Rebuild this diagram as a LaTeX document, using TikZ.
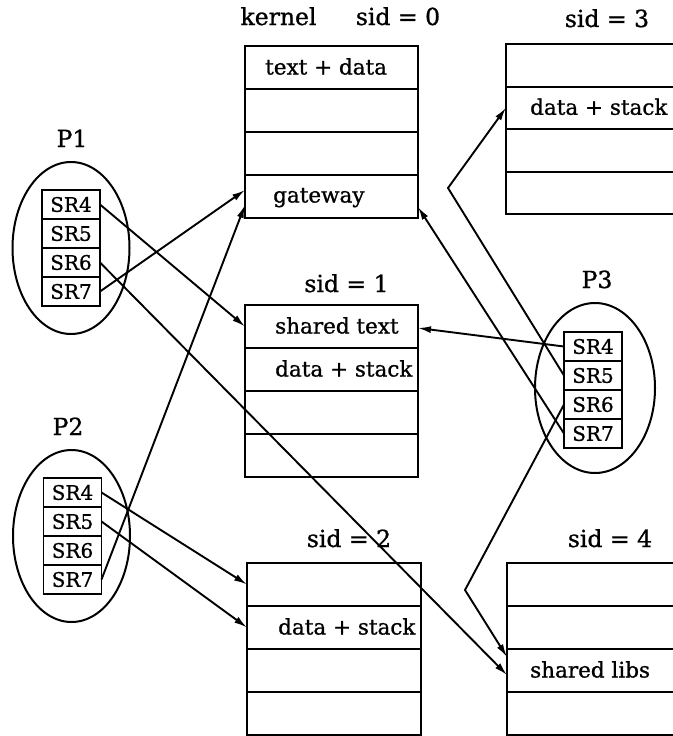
\documentclass[tikz,border=0pt]{standalone}
\usepackage{fontspec}
\setmainfont{DejaVu Serif}[FakeBold=1]
\usetikzlibrary{arrows.meta,shapes.geometric}
\begin{document}
\begin{tikzpicture}[x=1pt,y=-1pt,
  row/.style={draw,line width=2pt,minimum width=173pt,minimum height=43pt,inner sep=0pt,outer sep=0pt},
  srbox/.style={draw,line width=1.8pt,minimum width=58pt,minimum height=29pt,inner sep=0pt,outer sep=0pt,font=\fontsize{20}{22}\selectfont},
  proc/.style={draw,ellipse,line width=2pt,minimum width=117pt,minimum height=172pt,inner sep=0pt},
  rowtext/.style={anchor=base west,inner sep=0pt,font=\fontsize{21.5}{24}\selectfont},
  title/.style={anchor=base,inner sep=0pt,font=\fontsize{23.5}{26}\selectfont},
  conn/.style={line width=1.9pt,-{Latex[length=13pt,width=7pt]}},
]
\useasboundingbox (0,0) rectangle (672,736);

% process ellipses
\node[proc] (p1) at (71,248) {};
\node[proc] (p2) at (71.5,536) {};
\node[proc,minimum width=120pt,minimum height=170pt] (p3) at (595,388) {};

% titles
\node[title] (tk) at (278.5,25) {kernel};
\node[title] (t0) at (398,25) {sid = 0};
\node[title] (t3) at (607,27) {sid = 3};
\node[title] (t1) at (346.5,292) {sid = 1};
\node[title] (t2) at (349,547) {sid = 2};
\node[title] (t4) at (610,547) {sid = 4};
\node[title] (lp1) at (72,147) {P1};
\node[title] (lp2) at (68,435) {P2};
\node[title] (lp3) at (597,288) {P3};

% kernel sid = 0
\node[row] (k1) at (331.5,67.5) {};
\node[row] (k2) at (331.5,110.5) {};
\node[row] (k3) at (331.5,153.5) {};
\node[row] (k4) at (331.5,196.5) {};
\node[rowtext] (k1t) at (265,74.5) {text + data};
\node[rowtext] (k4t) at (273,202.5) {gateway};

% sid = 3
\node[row,minimum height=42.5pt] (s3r1) at (592.5,65.25) {};
\node[row,minimum height=42.5pt] (s3r2) at (592.5,107.75) {};
\node[row,minimum height=42.5pt] (s3r3) at (592.5,150.25) {};
\node[row,minimum height=42.5pt] (s3r4) at (592.5,192.75) {};
\node[rowtext] (s3t) at (530,114.75) {data + stack};

% sid = 1
\node[row] (s1r1) at (331.5,326.5) {};
\node[row] (s1r2) at (331.5,369.5) {};
\node[row] (s1r3) at (331.5,412.5) {};
\node[row] (s1r4) at (331.5,455.5) {};
\node[rowtext] (s1t1) at (275,333.5) {shared text};
\node[rowtext] (s1t2) at (275,376.5) {data + stack};

% sid = 2
\node[row,minimum width=174pt] (s2r1) at (334,584.5) {};
\node[row,minimum width=174pt] (s2r2) at (334,627.5) {};
\node[row,minimum width=174pt] (s2r3) at (334,670.5) {};
\node[row,minimum width=174pt] (s2r4) at (334,713.5) {};
\node[rowtext] (s2t) at (278,634.5) {data + stack};

% sid = 4
\node[row] (s4r1) at (593.5,584.5) {};
\node[row] (s4r2) at (593.5,627.5) {};
\node[row] (s4r3) at (593.5,670.5) {};
\node[row] (s4r4) at (593.5,713.5) {};
\node[rowtext] (s4t) at (530,677.5) {shared libs};

% segment registers
\node[srbox] (p1sr4) at (71,204.5) {SR4};
\node[srbox] (p1sr5) at (71,233.5) {SR5};
\node[srbox] (p1sr6) at (71,262.5) {SR6};
\node[srbox] (p1sr7) at (71,291.5) {SR7};

\node[srbox] (p2sr4) at (72.5,492.5) {SR4};
\node[srbox] (p2sr5) at (72.5,521.5) {SR5};
\node[srbox] (p2sr6) at (72.5,550.5) {SR6};
\node[srbox] (p2sr7) at (72.5,579.5) {SR7};

\node[srbox] (p3sr4) at (593,346.5) {SR4};
\node[srbox] (p3sr5) at (593,375.5) {SR5};
\node[srbox] (p3sr6) at (593,404.5) {SR6};
\node[srbox] (p3sr7) at (593,433.5) {SR7};

% bend points
\coordinate (kinkA) at (448,188);
\coordinate (kinkB) at (465,590);

% connectors
\draw[conn] (p1sr4.east) -- (s1r1.west);
\draw[conn] (p1sr6.east) -- ([yshift=-4.5pt]s4r3.west);
\draw[conn] (p1sr7.east) -- ([yshift=6.5pt]k4.west);
\draw[conn] (p2sr7.east) -- ([yshift=-8.5pt]k4.west);
\draw[conn] (p2sr4.east) -- (s2r1.west);
\draw[conn] (p2sr5.east) -- (s2r2.west);
\draw[conn] (p3sr4.west) -- ([yshift=-1.5pt]s1r1.east);
\draw[conn] (p3sr7.west) -- ([yshift=-10.5pt]k4.east);
\draw[conn] (p3sr5.west) -- (kinkA) -- (s3r2.west);
\draw[conn] (p3sr6.west) -- (kinkB) -- ([yshift=13.5pt]s4r3.west);
\end{tikzpicture}
\end{document}
